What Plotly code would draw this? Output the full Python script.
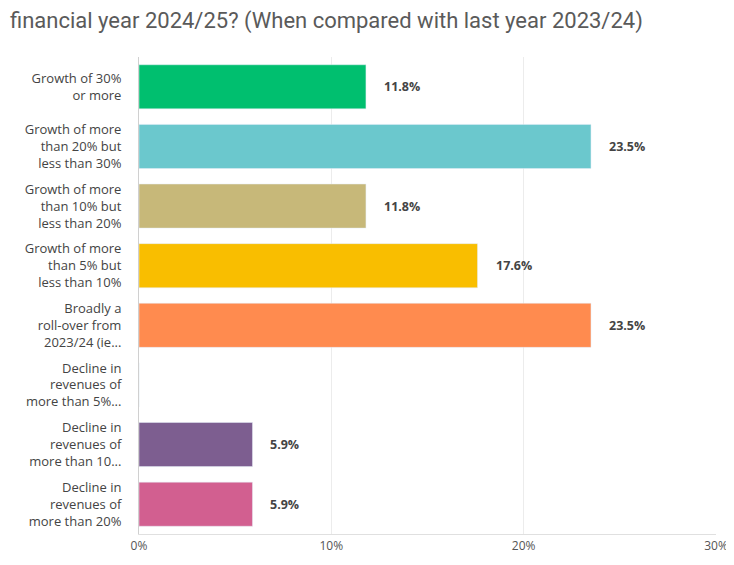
import plotly.graph_objects as go

# Survey answers, top to bottom as shown
CATEGORIES = [
    "Growth of 30%<br>or more",
    "Growth of more<br>than 20% but<br>less than 30%",
    "Growth of more<br>than 10% but<br>less than 20%",
    "Growth of more<br>than 5% but<br>less than 10%",
    "Broadly a<br>roll-over from<br>2023/24 (ie...",
    "Decline in<br>revenues of<br>more than 5%...",
    "Decline in<br>revenues of<br>more than 10...",
    "Decline in<br>revenues of<br>more than 20%",
]
VALUES = [11.8, 23.5, 11.8, 17.6, 23.5, 0.0, 5.9, 5.9]
COLORS = ["#00BF6F", "#6BC8CD", "#C7B879", "#F9BE00",
          "#FF8B4F", "#507CB6", "#7D5E90", "#D25F90"]
TICK_VALUES = [0, 10, 20, 30]
TICK_LABELS = ["0%", "10%", "20%", "30%"]

TITLE = "financial year 2024/25? (When compared with last year 2023/24)"

# page has an 8px body margin, so keep the figure inside the window
W, H = 726, 549
ML, MR, MT, MB = 131, 18, 49, 23

fig = go.Figure()
fig.add_trace(go.Bar(
    y=CATEGORIES,
    x=VALUES,
    orientation="h",
    marker_color=COLORS,
    width=0.74,
    hoverinfo="skip",
))

# percentage labels to the right of each non-empty bar
for cat, val in zip(CATEGORIES, VALUES):
    if val > 0:
        fig.add_annotation(
            x=val, y=cat, xref="x", yref="y",
            text=f"<b>{val:.1f}%</b>",
            showarrow=False, xanchor="left", xshift=16,
            font=dict(family="Open Sans", size=12.5, color="#444"),
        )

fig.add_annotation(
    text=TITLE, xref="paper", yref="paper",
    x=-ML / (W - ML - MR), y=1.0, yshift=21,
    xanchor="left", yanchor="bottom",
    showarrow=False,
    font=dict(family="Roboto", size=22, color="#5a5a5a"),
)

fig.update_layout(
    width=W, height=H,
    margin=dict(l=ML, r=MR, t=MT, b=MB),
    paper_bgcolor="white",
    plot_bgcolor="white",
    showlegend=False,
    font=dict(family="Open Sans", size=13, color="#444"),
    xaxis=dict(
        range=[0, 30],
        tickvals=TICK_VALUES,
        ticktext=TICK_LABELS,
        showgrid=True,
        gridcolor="#ececec",
        zeroline=False,
        showline=True,
        linecolor="#e0e0e0",
        ticks="",
        ticklabelstandoff=1,
        ticklabeloverflow="allow",
        tickfont=dict(size=12, color="#555"),
        automargin=False,
    ),
    yaxis=dict(
        categoryorder="array",
        categoryarray=CATEGORIES[::-1],
        autorange=False,
        range=[-0.5, 7.5],
        showline=True,
        linecolor="#d0d0d0",
        showgrid=False,
        ticks="",
        ticklabelstandoff=14,
        tickfont=dict(size=13, color="#444"),
        automargin=False,
    ),
)

fig.write_html("out.html")
